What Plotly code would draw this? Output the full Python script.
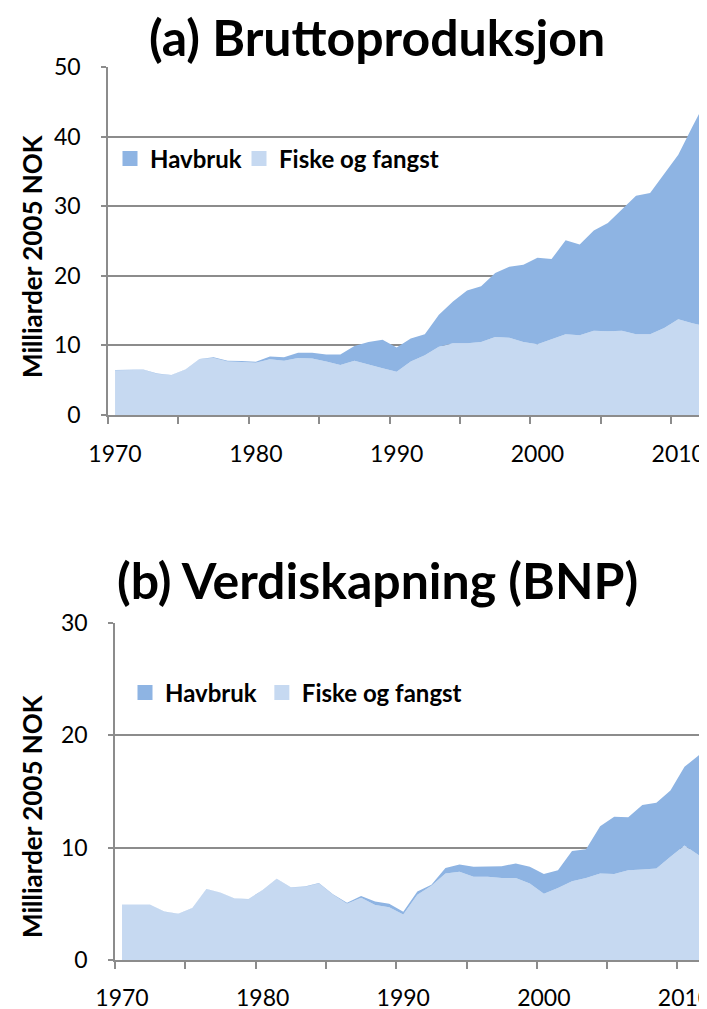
import plotly.graph_objects as go

years = list(range(1970, 2013))

fiske_brutto = [6.4, 6.4, 6.5, 5.9, 5.7, 6.5, 8.0, 8.2, 7.7, 7.6,
                7.5, 8.0, 7.8, 8.2, 8.1, 7.7, 7.2, 7.8, 7.2, 6.7,
                6.2, 7.7, 8.6, 9.8, 10.3, 10.3, 10.5, 11.2, 11.1, 10.5,
                10.15, 10.9, 11.6, 11.45, 12.1, 12.05, 12.1, 11.6, 11.6, 12.5,
                13.75, 13.2, 12.7]
havbruk_brutto = [0.05, 0.05, 0.05, 0.05, 0.05, 0.05, 0.05, 0.1, 0.1, 0.15,
                  0.15, 0.4, 0.5, 0.75, 0.85, 1.0, 1.5, 2.1, 3.3, 4.1,
                  3.5, 3.3, 3.0, 4.6, 6.0, 7.6, 8.0, 9.2, 10.2, 11.1,
                  12.45, 11.5, 13.5, 13.05, 14.4, 15.55, 17.4, 19.9, 20.3, 22.2,
                  23.65, 28.2, 32.6]

fiske_bnp = [4.9, 4.9, 4.9, 4.3, 4.1, 4.6, 6.3, 6.0, 5.45, 5.4,
             6.2, 7.2, 6.45, 6.5, 6.8, 5.8, 5.0, 5.55, 4.9, 4.7,
             4.05, 5.8, 6.6, 7.7, 7.85, 7.4, 7.4, 7.3, 7.3, 6.8,
             5.9, 6.4, 7.0, 7.3, 7.7, 7.65, 8.0, 8.05, 8.15, 9.2,
             10.2, 9.35, 8.7]
havbruk_bnp = [0.02, 0.02, 0.02, 0.02, 0.02, 0.02, 0.02, 0.02, 0.02, 0.02,
               0.03, 0.03, 0.03, 0.04, 0.05, 0.05, 0.1, 0.15, 0.3, 0.3,
               0.25, 0.3, 0.1, 0.5, 0.65, 0.9, 0.9, 1.05, 1.3, 1.5,
               1.75, 1.6, 2.7, 2.55, 4.2, 5.1, 4.7, 5.75, 5.85, 5.9,
               7.0, 8.85, 11.3]

label_years = [1970, 1980, 1990, 2000, 2010]
tick_marks = [1969.5 + 5 * i for i in range(10)]

DARK = "#8EB4E3"
LIGHT = "#C6D9F1"
GRAY = "#8C8C8C"
FONT = "Lato"
OFF = 8                      # default page body margin
W, H = 707 - OFF, 1009 - OFF


def xp(px):
    return (px - OFF) / W


def yp(py):
    return 1 - (py - OFF) / H


fig = go.Figure()


def add_areas(fiske, havbruk, xa, ya, grp):
    fig.add_trace(go.Scatter(x=years, y=fiske, stackgroup=grp, mode="lines",
                             line=dict(width=0, color=LIGHT), fillcolor=LIGHT,
                             showlegend=False, xaxis=xa, yaxis=ya, hoverinfo="skip"))
    fig.add_trace(go.Scatter(x=years, y=havbruk, stackgroup=grp, mode="lines",
                             line=dict(width=0, color=DARK), fillcolor=DARK,
                             showlegend=False, xaxis=xa, yaxis=ya, hoverinfo="skip"))


add_areas(fiske_brutto, havbruk_brutto, "x", "y", "a")
add_areas(fiske_bnp, havbruk_bnp, "x2", "y2", "b")

for lg, xa, ya, lw in [("legend", "x", "y", 84), ("legend2", "x2", "y2", None)]:
    fig.add_trace(go.Scatter(x=[None], y=[None], mode="markers", name="Havbruk",
                             marker=dict(symbol="square", size=15, color=DARK),
                             legend=lg, legendwidth=lw, xaxis=xa, yaxis=ya))
    fig.add_trace(go.Scatter(x=[None], y=[None], mode="markers", name="Fiske og fangst",
                             marker=dict(symbol="square", size=15, color=LIGHT),
                             legend=lg, xaxis=xa, yaxis=ya))


def xaxis_cfg(left_px, rng_end, anchor, standoff):
    return dict(domain=[xp(left_px), 1], range=[1969.5, rng_end], anchor=anchor,
                automargin=False, ticklabeloverflow="allow",
                tickmode="array", tickvals=label_years,
                ticktext=[str(v) for v in label_years], ticks="",
                showgrid=False, zeroline=False, showline=True,
                linecolor=GRAY, linewidth=1.5,
                tickfont=dict(family=FONT, size=23, color="#000000"),
                ticklabelstandoff=standoff,
                minor=dict(tickmode="array", tickvals=tick_marks, ticks="outside",
                           ticklen=7, tickwidth=1.5, tickcolor=GRAY, showgrid=False))


def yaxis_cfg(top_px, bot_px, rmax, anchor):
    return dict(domain=[yp(bot_px), yp(top_px)], range=[0, rmax], dtick=10,
                anchor=anchor, automargin=False,
                showgrid=True, gridcolor=GRAY, gridwidth=1.5,
                zeroline=False, showline=True, linecolor=GRAY, linewidth=1.5,
                ticks="outside", ticklen=5, tickwidth=1.5, tickcolor=GRAY,
                tickfont=dict(family=FONT, size=23, color="#000000"),
                ticklabelstandoff=16)


legend_font = dict(family=FONT, size=24, color="#000000", weight="bold")

fig.update_layout(
    width=W, height=H,
    margin=dict(l=0, r=0, t=0, b=0, autoexpand=False),
    paper_bgcolor="white", plot_bgcolor="white",
    xaxis=xaxis_cfg(108, 2012.04, "y", 18),
    yaxis=yaxis_cfg(67, 415, 50, "x"),
    xaxis2=xaxis_cfg(115, 2011.6, "y2", 17),
    yaxis2=yaxis_cfg(623, 960, 30, "x2"),
    legend=dict(x=xp(110), y=yp(159), xanchor="left", yanchor="middle",
                orientation="h", traceorder="normal", bgcolor="rgba(0,0,0,0)",
                font=legend_font),
    legend2=dict(x=xp(125), y=yp(693), xanchor="left", yanchor="middle",
                 orientation="h", traceorder="normal", bgcolor="rgba(0,0,0,0)",
                 font=legend_font),
    showlegend=True,
)

annots = [
    dict(text="(a) Bruttoproduksjon", x=xp(377), y=yp(37), size=50),
    dict(text="(b) Verdiskapning (BNP)", x=xp(377), y=yp(580), size=50),
]
for a in annots:
    fig.add_annotation(text=a["text"], x=a["x"], y=a["y"], xref="paper", yref="paper",
                       xanchor="center", yanchor="middle", showarrow=False,
                       font=dict(family=FONT, size=a["size"], color="#000000", weight="bold"))
for yc in [256, 816]:
    fig.add_annotation(text="Milliarder 2005 NOK", x=xp(32), y=yp(yc),
                       xref="paper", yref="paper", xanchor="center", yanchor="middle",
                       textangle=-90, showarrow=False,
                       font=dict(family=FONT, size=26, color="#000000", weight="bold"))

fig.write_html("out.html")
